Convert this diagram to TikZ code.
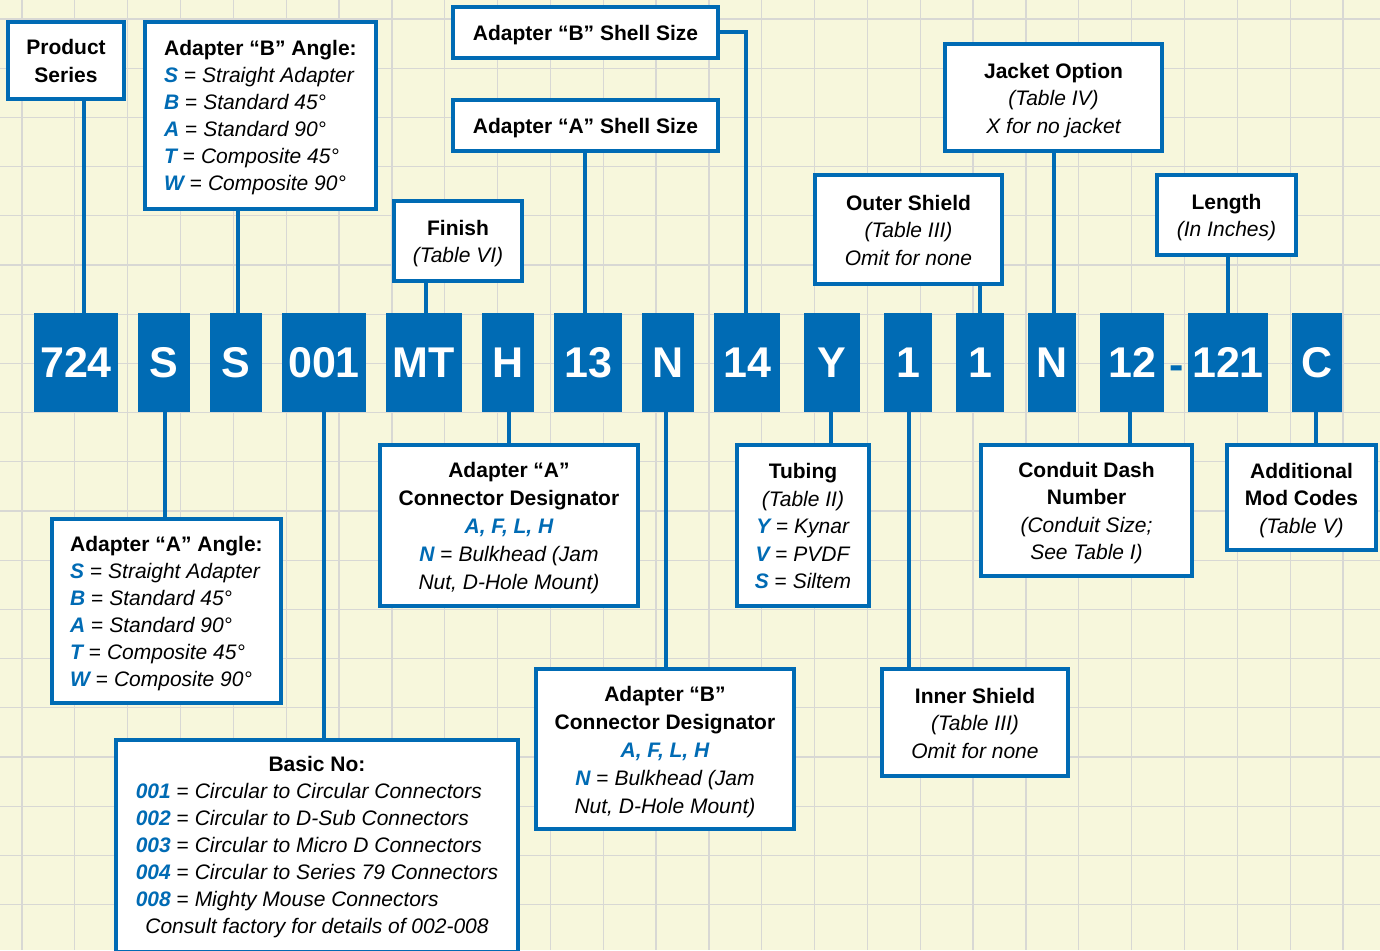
\documentclass[tikz,border=0pt]{standalone}
\usepackage{fontspec}
\setmainfont{Liberation Sans}
\definecolor{cblue}{HTML}{006BB4}
\definecolor{cream}{HTML}{F7F7DC}
\definecolor{gridc}{HTML}{D8D8D4}
\newcommand\bl[1]{{\color{cblue}\bfseries\itshape #1}}
\newcommand\ctext[1]{\raisebox{-2.5pt}[\height][\depth]{\begin{tabular}{@{}c@{}}#1\end{tabular}}}
\newcommand\ltext[2][-2.5pt]{\raisebox{#1}[\height][\depth]{\begin{tabular}{@{}l@{}}#2\end{tabular}}}
\begin{document}
\begin{tikzpicture}[x=1pt,y=-1pt,
  desc/.style={draw=cblue, line width=4pt, fill=white, inner sep=0pt,
    font=\fontsize{21}{27.5}\selectfont, text=black},
  tight/.style={font=\fontsize{21}{27}\selectfont},
  code/.style={fill=cblue, inner sep=0pt, minimum height=99pt, text=white,
    font=\fontsize{43}{43}\selectfont\bfseries},
  conn/.style={draw=cblue, line width=4pt},
  gridline/.style={draw=gridc, line width=1.3pt}]
\clip (0,0) rectangle (1380,950);
\fill[cream] (0,0) rectangle (1380,950);
\foreach \k in {0,...,25} \draw[gridline] ({22+52.84*\k},0) -- ({22+52.84*\k},950);
\foreach \k in {0,...,18} \draw[gridline] (0,{19+49.2*\k}) -- (1380,{19+49.2*\k});

% code boxes
\node[code, minimum width=84pt] (c724) at (76,362.5) {724};
\node[code, minimum width=52pt] (cS1) at (164,362.5) {S};
\node[code, minimum width=52pt] (cS2) at (236,362.5) {S};
\node[code, minimum width=84pt] (c001) at (324,362.5) {001};
\node[code, minimum width=76pt] (cMT) at (424,362.5) {MT};
\node[code, minimum width=52pt] (cH) at (508,362.5) {H};
\node[code, minimum width=68pt] (c13) at (588,362.5) {13};
\node[code, minimum width=52pt] (cN1) at (668,362.5) {N};
\node[code, minimum width=66pt] (c14) at (747,362.5) {14};
\node[code, minimum width=56pt] (cY) at (832,362.5) {Y};
\node[code, minimum width=48pt] (c1a) at (908,362.5) {1};
\node[code, minimum width=48pt] (c1b) at (980,362.5) {1};
\node[code, minimum width=48pt] (cN2) at (1052,362.5) {N};
\node[code, minimum width=64pt] (c12) at (1132,362.5) {12};
\node[anchor=base, inner sep=0pt, text=cblue, font=\fontsize{43}{43}\selectfont\bfseries] (dash) at (1177,379) {-};
\node[code, minimum width=80pt] (c121) at (1228,362.5) {121};
\node[code, minimum width=50pt] (cC) at (1317,362.5) {C};

% description boxes above
\node[desc, minimum width=116pt, minimum height=77pt] (ps) at (66,60.5) {\ctext{\bfseries Product\\\bfseries Series}};
\node[desc, tight, minimum width=231pt, minimum height=187pt] (bang) at (260.5,115.5) {\ltext{%
\bfseries Adapter “B” Angle:\\
\bl{S} = \textit{Straight Adapter}\\
\bl{B} = \textit{Standard 45°}\\
\bl{A} = \textit{Standard 90°}\\
\bl{T} = \textit{Composite 45°}\\
\bl{W} = \textit{Composite 90°}}};
\node[desc, minimum width=265pt, minimum height=51pt] (bss) at (585.5,32.5) {\ctext{\bfseries Adapter “B” Shell Size}};
\node[desc, minimum width=265pt, minimum height=51pt] (ass) at (585.5,125.5) {\ctext{\bfseries Adapter “A” Shell Size}};
\node[desc, minimum width=128pt, minimum height=80pt] (fin) at (458,241) {\ctext{\bfseries Finish\\\itshape (Table VI)}};
\node[desc, minimum width=217pt, minimum height=107pt] (jack) at (1053.5,97.5) {\ctext{\bfseries Jacket Option\\\itshape (Table IV)\\\itshape X for no jacket}};
\node[desc, minimum width=187pt, minimum height=109pt] (outs) at (908.5,229.5) {\ctext{\bfseries Outer Shield\\\itshape (Table III)\\\itshape Omit for none}};
\node[desc, minimum width=139pt, minimum height=80pt] (len) at (1226.5,215) {\ctext{\bfseries Length\\\itshape (In Inches)}};

% description boxes below
\node[desc, tight, minimum width=229pt, minimum height=184pt] (aang) at (166.5,611) {\ltext{%
\bfseries Adapter “A” Angle:\\
\bl{S} = \textit{Straight Adapter}\\
\bl{B} = \textit{Standard 45°}\\
\bl{A} = \textit{Standard 90°}\\
\bl{T} = \textit{Composite 45°}\\
\bl{W} = \textit{Composite 90°}}};
\node[desc, font=\fontsize{21}{28}\selectfont, minimum width=258pt, minimum height=161pt] (acd) at (509,525.5) {\ctext{\bfseries Adapter “A”\\\bfseries Connector Designator\\\bl{A, F, L, H}\\\bl{N} = \textit{Bulkhead (Jam}\\\itshape Nut, D-Hole Mount)}};
\node[desc, tight, minimum width=402pt, minimum height=212pt] (basic) at (317,846) {\ltext[-1pt]{%
\multicolumn{1}{@{}c@{}}{\bfseries Basic No:}\\
\bl{001} = \textit{Circular to Circular Connectors}\\
\bl{002} = \textit{Circular to D-Sub Connectors}\\
\bl{003} = \textit{Circular to Micro D Connectors}\\
\bl{004} = \textit{Circular to Series 79 Connectors}\\
\bl{008} = \textit{Mighty Mouse Connectors}\\
\multicolumn{1}{@{}c@{}}{\itshape Consult factory for details of 002-008}}};
\node[desc, font=\fontsize{21}{28}\selectfont, minimum width=258pt, minimum height=160pt] (bcd) at (665,749) {\ctext{\bfseries Adapter “B”\\\bfseries Connector Designator\\\bl{A, F, L, H}\\\bl{N} = \textit{Bulkhead (Jam}\\\itshape Nut, D-Hole Mount)}};
\node[desc, minimum width=132pt, minimum height=161pt] (tub) at (803,525.5) {\ctext{\bfseries Tubing\\\itshape (Table II)\\\bl{Y} = \textit{Kynar}\\\bl{V} = \textit{PVDF}\\\bl{S} = \textit{Siltem}}};
\node[desc, minimum width=186pt, minimum height=107pt] (inner) at (975,722.5) {\ctext{\bfseries Inner Shield\\\itshape (Table III)\\\itshape Omit for none}};
\node[desc, minimum width=211pt, minimum height=131pt] (cdn) at (1086.5,510.5) {\ctext{\bfseries Conduit Dash\\\bfseries Number\\\itshape (Conduit Size;\\\itshape See Table I)}};
\node[desc, minimum width=149pt, minimum height=105pt] (amc) at (1301.5,497.5) {\ctext{\bfseries Additional\\\bfseries Mod Codes\\\itshape (Table V)}};

% connectors above
\draw[conn] ([xshift=8pt]c724.north) -- ([xshift=8pt]c724.north |- ps.south);
\draw[conn] ([xshift=2pt]cS2.north) -- ([xshift=2pt]cS2.north |- bang.south);
\draw[conn] ([xshift=2pt]cMT.north) -- ([xshift=2pt]cMT.north |- fin.south);
\draw[conn] ([xshift=-3pt]c13.north) -- ([xshift=-3pt]c13.north |- ass.south);
\draw[conn] ([xshift=-1pt]c14.north) |- (bss.east);
\draw[conn] (c1b.north) -- (c1b.north |- outs.south);
\draw[conn] ([xshift=2pt]cN2.north) -- ([xshift=2pt]cN2.north |- jack.south);
\draw[conn] (c121.north) -- (c121.north |- len.south);
% connectors below
\draw[conn] ([xshift=0.5pt]cS1.south) -- ([xshift=0.5pt]cS1.south |- aang.north);
\draw[conn] ([xshift=-0.5pt]c001.south) -- ([xshift=-0.5pt]c001.south |- basic.north);
\draw[conn] ([xshift=1pt]cH.south) -- ([xshift=1pt]cH.south |- acd.north);
\draw[conn] ([xshift=-2pt]cN1.south) -- ([xshift=-2pt]cN1.south |- bcd.north);
\draw[conn] ([xshift=-1pt]cY.south) -- ([xshift=-1pt]cY.south |- tub.north);
\draw[conn] ([xshift=1pt]c1a.south) -- ([xshift=1pt]c1a.south |- inner.north);
\draw[conn] ([xshift=-2pt]c12.south) -- ([xshift=-2pt]c12.south |- cdn.north);
\draw[conn] ([xshift=-1pt]cC.south) -- ([xshift=-1pt]cC.south |- amc.north);
\end{tikzpicture}
\end{document}
